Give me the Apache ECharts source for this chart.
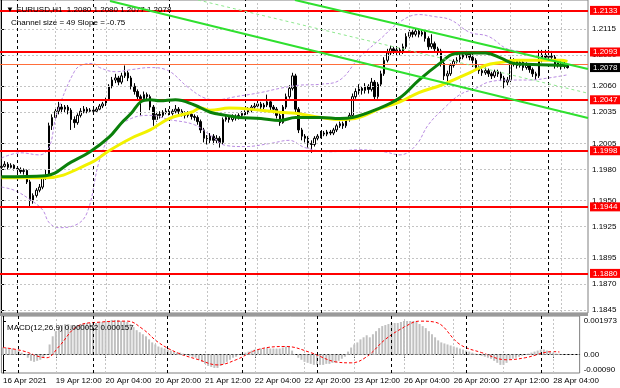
<!DOCTYPE html>
<html><head><meta charset="utf-8">
<script src="https://cdn.jsdelivr.net/npm/echarts@6/dist/echarts.min.js"></script>
<style>html,body{margin:0;padding:0;background:#fff}#c{width:620px;height:388px}</style>
</head><body><div id="c"></div>
<script>
// ---------- DATA (prices stored as pips above 1.1900) ----------
const BASE = 1.19;
const firstOpen = 82;
const closes = [83,85,82,84,81,80,78,79,68,50,
55,60,63,72,75,122,130,136,140,138,
140,137,128,125,132,136,138,136,137,136,
138,141,143,147,160,166,168,164,170,173,
168,160,155,150,148,152,150,140,128,133,
132,135,136,134,136,138,136,134,132,133,
131,130,126,118,110,108,112,108,110,106,
128,130,128,131,130,132,134,135,137,140,
141,143,140,142,145,140,138,132,125,140,
150,158,170,138,118,112,110,105,104,110,
112,115,114,116,115,118,122,124,122,128,
132,150,155,158,156,160,157,164,150,162,
172,185,192,196,194,195,193,198,208,212,
210,213,210,212,206,198,201,196,194,182,
170,172,180,184,185,188,190,191,188,185,
178,175,173,175,172,170,174,172,168,164,
166,182,184,180,183,178,180,176,172,170,
185,190,188,189,188,180,183,179,180,178];
const highs = [86,88,87,86,85,83,82,81,80,70,
57,62,66,74,80,125,133,139,145,143,
142,142,139,131,134,139,141,140,139,138,
140,143,145,149,162,169,172,170,173,180,
175,170,163,157,152,155,154,152,142,135,
136,137,139,138,138,142,140,138,136,136,
135,133,132,128,120,113,115,114,113,112,
130,133,132,133,133,134,136,137,140,142,
144,146,145,144,152,147,142,140,134,142,
153,161,173,172,140,120,114,112,108,112,
114,117,117,118,118,120,124,126,126,130,
135,153,158,162,160,163,162,168,166,164,
175,188,196,199,198,198,197,201,211,217,
214,216,215,215,214,208,210,203,198,196,
184,175,182,186,188,191,193,194,193,190,
187,180,177,178,177,174,176,176,174,170,
169,190,187,186,185,185,183,182,178,174,
195,195,195,195,194,190,185,185,184,180];
const lows = [80,82,80,81,79,77,76,75,66,44,
47,53,58,61,70,74,118,127,133,134,
135,133,118,120,123,130,134,134,135,134,
135,137,139,141,146,158,163,161,162,168,
165,157,152,146,132,145,146,137,122,126,
129,130,133,132,132,134,133,131,129,130,
128,127,123,115,106,104,105,104,105,101,
104,126,125,126,127,128,130,132,133,135,
138,139,137,138,140,137,134,129,122,124,
138,148,156,135,115,108,106,101,96,102,
108,110,112,112,113,113,116,120,119,120,
126,130,148,152,152,153,153,155,147,148,
160,170,183,190,191,192,190,191,196,206,
207,208,207,208,203,195,196,193,190,179,
166,161,170,178,182,183,186,187,185,182,
175,172,170,171,169,167,168,169,165,158,
161,164,179,177,178,175,176,173,169,166,
168,183,185,186,185,177,178,176,177,177];

// moving averages, bands: [bar index, pips]
const maGreen = [[0,73],[14,74],[22,87],[28,97],[34,111],[38,125],[41,134],[44,145],[47,147],[50,146],[55,147],[61,142],[66,135],[71,132],[75,130],[82,129],[88,127],[93,130],[101,130],[107,129],[111,130],[118,137],[126,149],[132,166],[139,183],[143,191],[148,192],[153,192],[158,187],[162,182],[168,181],[179,180]];
const maYellow = [[0,72],[14,72],[28,86],[34,98],[41,110],[47,118],[53,129],[60,135],[63,139],[66,137],[72,139],[82,137],[88,135],[93,134],[101,130],[107,128],[113,130],[120,139],[126,145],[132,154],[139,161],[148,173],[153,180],[158,183],[163,185],[168,185],[177,185],[179,184]];
const bbUpper = [[0,91],[6,96],[12,94],[15,101],[17,128],[19,147],[23,174],[25,180],[29,182],[31,178],[36,174],[41,176],[47,178],[52,176],[59,159],[64,149],[68,147],[74,150],[82,154],[88,158],[94,161],[101,162],[107,166],[113,187],[120,206],[126,222],[132,229],[137,227],[142,224],[148,212],[154,208],[161,195],[170,193],[179,193]];
const bbLower = [[0,63],[4,60],[9,51],[13,41],[15,29],[18,24],[23,26],[27,38],[31,89],[35,115],[41,129],[47,132],[53,128],[61,123],[66,113],[71,103],[77,102],[85,105],[91,108],[96,101],[104,97],[113,99],[121,97],[126,94],[131,103],[135,123],[140,139],[145,152],[150,158],[154,164],[161,166],[167,166],[173,168],[179,171]];
// regression channel endpoints [bar, pips]
const channelUpper = [[92.8,243],[185.5,176.7]];
const channelLower = [[34.3,242],[185.5,129.5]];
const channelMiddle = [[62.1,243],[185.5,153.3]];

// horizontal levels
const redLevels = [1.2133, 1.2093, 1.2047, 1.1998, 1.1944, 1.1880];
const orangeLevel = 1.2081;
const lastPrice = 1.2078;

// MACD (histogram in units of 1e-5), signal [bar, value]
const macdHist = [42,42,36,36,30,24,12,0,-18,-36,
-42,-36,-30,-18,0,60,108,138,162,174,
180,180,174,168,174,180,186,186,186,186,
186,192,192,198,198,204,204,204,198,198,
192,180,162,144,132,120,108,90,72,60,
48,42,36,30,24,18,12,12,6,0,
-6,-12,-18,-30,-42,-54,-66,-72,-78,-78,
-66,-54,-42,-30,-18,-12,0,6,12,18,
24,30,30,36,36,42,36,36,36,36,
42,48,48,24,0,-18,-30,-42,-48,-54,
-60,-60,-60,-60,-54,-54,-48,-48,-36,-24,
-12,18,42,60,72,90,102,114,102,120,
138,156,168,174,180,186,186,186,192,198,
198,198,198,192,180,168,156,138,120,102,
84,72,66,60,54,48,42,36,30,24,
18,12,6,0,-6,-12,-18,-24,-36,-48,
-60,-60,-48,-30,-24,-18,-12,-6,0,6,
12,18,24,30,30,24,18,12,6,5];
const macdSignal = [[0,0.00042],[6,0.00024],[14,-0.00018],[18,0.00048],[24,0.00167],[31,0.00191],[40,0.00197],[45,0.0015],[50,0.00072],[56,0.00012],[63,-0.0003],[69,-0.0006],[75,-0.0003],[82,0.0003],[91,0.00048],[99,0.00012],[107,-0.00042],[112,-0.00048],[117,-0.00012],[123,0.0009],[129,0.00161],[134,0.00197],[139,0.00191],[147,0.0006],[154,0.00012],[162,-0.0003],[168,-0.00018],[177,0.00018],[179,0.000157]];

// axis ticks
const priceTicks = [1.2115, 1.2090, 1.2060, 1.2035, 1.2005, 1.1980, 1.1950, 1.1925, 1.1895, 1.1870, 1.1845];
const macdTicks = [-0.0009, 0, 0.001973];
const macdTickLabels = ['-0.00090', '0.00', '0.001973'];
const timeTickBars = [0,17,33,49,65,81,97,113,129,145,161,177];
const timeTickLabels = ['16 Apr 2021','19 Apr 12:00','20 Apr 04:00','20 Apr 20:00','21 Apr 12:00','22 Apr 04:00','22 Apr 20:00','23 Apr 12:00','26 Apr 04:00','26 Apr 20:00','27 Apr 12:00','28 Apr 04:00'];
const daySepBars = [5,29,53,77,101,125,149,173];

// ---------- BUILD ----------
const NSLOTS = 186;
const cats = Array.from({length: NSLOTS}, (_, i) => String(i));
const P = v => +(BASE + v / 10000).toFixed(5);
const opens = closes.map((c, i) => i === 0 ? firstOpen : closes[i - 1]);
const candleData = closes.map((c, i) => [P(opens[i]), P(c), P(lows[i]), P(highs[i])]);
const toPrice = arr => arr.map(d => [d[0], P(d[1])]);
const FONT = 'Liberation Sans';

const gridGray = {color: '#c4c4c4', type: [2, 2], width: 1};
const daySep = {color: '#000', type: [3, 3], width: 1};
const vLines = timeTickBars.slice(1).map(b => ({xAxis: b, lineStyle: gridGray}))
  .concat(daySepBars.map(b => ({xAxis: b, lineStyle: daySep})));
const hidden = {opacity: 0, width: 0};
const boxLabel = (txt, bg) => ({show: true, position: 'end', distance: 2, formatter: txt, color: '#fff', backgroundColor: bg, padding: [1, 3, 0, 3], fontSize: 8, fontFamily: FONT, opacity: 1});

const chart = echarts.init(document.getElementById('c'));
chart.setOption({
  animation: false,
  backgroundColor: '#fff',
  textStyle: {fontFamily: FONT},
  title: [
    {text: '\u25BC EURUSD,H1  1.2080 1.2080 1.2077 1.2078', left: 1, top: 1, textStyle: {fontSize: 8, fontWeight: 'normal', color: '#000', fontFamily: FONT}},
    {text: 'Channel size = 49 Slope = -0.75', left: 6, top: 14, textStyle: {fontSize: 8, fontWeight: 'normal', color: '#000', fontFamily: FONT}},
    {text: 'MACD(12,26,9) 0.000052 0.000157', left: 2, top: 319, textStyle: {fontSize: 8, fontWeight: 'normal', color: '#000', fontFamily: FONT}}
  ],
  graphic: [
    {type: 'rect', shape: {x: 0, y: 313, width: 588, height: 3}, style: {fill: '#9a9a9a'}, z: 10}
  ],
  grid: [
    {left: 0, right: 32, top: 0, height: 313, show: true, borderColor: '#808080', borderWidth: 1},
    {left: 0, right: 32, top: 316, height: 57, show: true, borderColor: '#808080', borderWidth: 1}
  ],
  xAxis: [
    {type: 'category', gridIndex: 0, data: cats, boundaryGap: true, axisLine: {show: false}, axisTick: {show: false}, axisLabel: {show: false}, splitLine: {show: false}},
    {type: 'value', gridIndex: 0, min: -0.5, max: NSLOTS - 0.5, show: false},
    {type: 'category', gridIndex: 1, data: cats, boundaryGap: true,
      axisLine: {show: true, lineStyle: {color: '#000'}},
      axisTick: {show: true, alignWithLabel: true, length: 3, interval: (i) => timeTickBars.includes(i), lineStyle: {color: '#000'}},
      axisLabel: {show: true, interval: (i) => timeTickBars.includes(i), formatter: (v, i) => { const k = timeTickBars.indexOf(+v); return k >= 0 ? timeTickLabels[k] : ''; }, align: 'left', color: '#000', fontSize: 8, margin: 4, fontFamily: FONT},
      splitLine: {show: false}},
    {type: 'value', gridIndex: 1, min: -0.5, max: NSLOTS - 0.5, show: false}
  ],
  yAxis: [
    {type: 'value', gridIndex: 0, position: 'right', min: 1.18419, max: 1.2143,
      axisLine: {show: true, lineStyle: {color: '#000'}},
      axisTick: {show: true, length: 3, customValues: priceTicks, lineStyle: {color: '#000'}},
      axisLabel: {show: true, customValues: priceTicks, formatter: v => priceTicks.some(t => Math.abs(t - v) < 1e-6) ? v.toFixed(4) : '', color: '#000', fontSize: 8, margin: 4, fontFamily: FONT},
      splitLine: {show: false}},
    {type: 'value', gridIndex: 1, position: 'right', min: -0.001077, max: 0.002272,
      axisLine: {show: true, lineStyle: {color: '#000'}},
      axisTick: {show: true, length: 3, customValues: macdTicks, lineStyle: {color: '#000'}},
      axisLabel: {show: true, customValues: macdTicks, formatter: v => { const k = macdTicks.findIndex(t => Math.abs(t - v) < 1e-7); return k >= 0 ? macdTickLabels[k] : ''; }, color: '#000', fontSize: 8, margin: 4, fontFamily: FONT},
      splitLine: {show: false}}
  ],
  series: [
    // main grid lines - hosted on an invisible copy of the lower band
    {type: 'line', xAxisIndex: 1, yAxisIndex: 0, data: toPrice(bbLower), showSymbol: false, lineStyle: hidden, z: 1, silent: true,
      markLine: {silent: true, precision: 6, symbol: ['none', 'none'], label: {show: false}, animation: false,
        data: priceTicks.map(v => ({yAxis: v, lineStyle: gridGray})).concat(vLines)}},
    // candles
    {type: 'candlestick', xAxisIndex: 0, yAxisIndex: 0, data: candleData, barWidth: 2, z: 3,
      itemStyle: {color: '#ffffff', color0: '#000000', borderColor: '#000000', borderColor0: '#000000', borderWidth: 1}},
    // Bollinger bands
    {type: 'line', xAxisIndex: 1, yAxisIndex: 0, data: toPrice(bbUpper), smooth: 0.4, showSymbol: false, z: 4, lineStyle: {color: '#b98be2', width: 1, type: [3, 2]}},
    {type: 'line', xAxisIndex: 1, yAxisIndex: 0, data: toPrice(bbLower), smooth: 0.4, showSymbol: false, z: 4, lineStyle: {color: '#b98be2', width: 1, type: [3, 2]}},
    // moving averages
    {type: 'line', xAxisIndex: 1, yAxisIndex: 0, data: toPrice(maYellow), smooth: 0.4, showSymbol: false, z: 5, lineStyle: {color: '#f2f200', width: 3}},
    {type: 'line', xAxisIndex: 1, yAxisIndex: 0, data: toPrice(maGreen), smooth: 0.4, showSymbol: false, z: 6, lineStyle: {color: '#0a800a', width: 3}},
    // channel
    {type: 'line', xAxisIndex: 1, yAxisIndex: 0, data: toPrice(channelUpper), showSymbol: false, z: 6, lineStyle: {color: '#2fe02f', width: 2}},
    {type: 'line', xAxisIndex: 1, yAxisIndex: 0, data: toPrice(channelLower), showSymbol: false, z: 6, lineStyle: {color: '#2fe02f', width: 2}},
    {type: 'line', xAxisIndex: 1, yAxisIndex: 0, data: toPrice(channelMiddle), showSymbol: false, z: 6, lineStyle: {color: '#8ee88e', width: 1, type: [3, 3]}},
    // levels - hosted on an invisible copy of the upper band
    {type: 'line', xAxisIndex: 1, yAxisIndex: 0, data: toPrice(bbUpper), showSymbol: false, lineStyle: hidden, z: 7, silent: true,
      markLine: {silent: true, precision: 6, symbol: ['none', 'none'], animation: false,
        data: redLevels.map(v => ({yAxis: v, lineStyle: {color: '#ff0000', width: 2, type: 'solid'}, label: boxLabel(v.toFixed(4), '#ff0000')}))
          .concat([
            {yAxis: orangeLevel, lineStyle: {color: '#ff6e3a', width: 1, type: 'solid'}, label: {show: false}},
            {yAxis: lastPrice, lineStyle: {color: 'rgba(0,0,0,0)', width: 1, type: 'solid'}, label: boxLabel(lastPrice.toFixed(4), '#000')}
          ])}},
    // MACD grid lines - hosted on invisible copy of signal
    {type: 'line', xAxisIndex: 3, yAxisIndex: 1, data: macdSignal, showSymbol: false, lineStyle: hidden, z: 1, silent: true,
      markLine: {silent: true, precision: 8, symbol: ['none', 'none'], label: {show: false}, animation: false,
        data: [{yAxis: 0, lineStyle: gridGray}].concat(vLines)}},
    // MACD histogram
    {type: 'bar', xAxisIndex: 2, yAxisIndex: 1, data: macdHist.map(v => v * 1e-5), barWidth: 2, z: 3, itemStyle: {color: '#c0c0c0'}},
    // MACD signal
    {type: 'line', xAxisIndex: 3, yAxisIndex: 1, data: macdSignal, smooth: 0.4, showSymbol: false, z: 4, lineStyle: {color: '#ff0000', width: 1, type: [3, 2]}}
  ]
});
</script>
</body></html>
